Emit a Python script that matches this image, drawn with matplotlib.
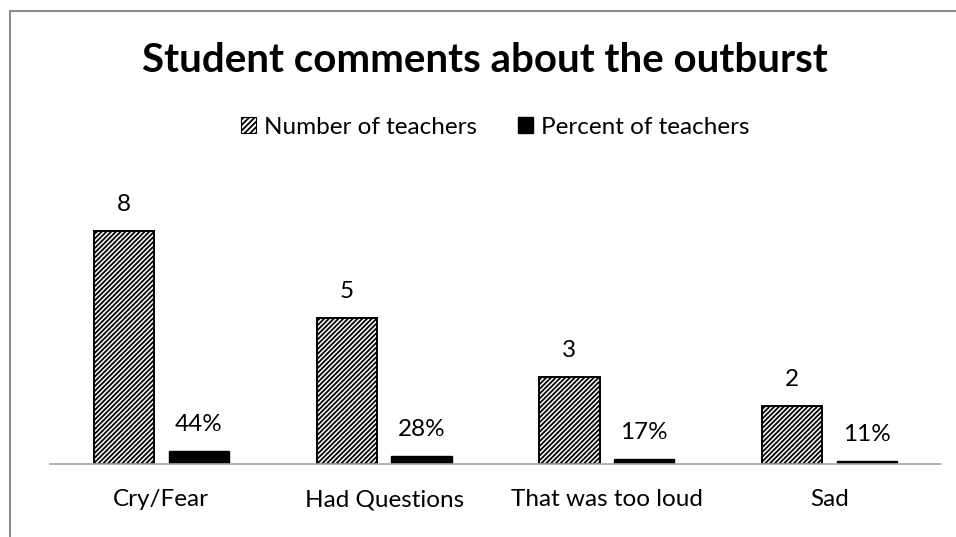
import matplotlib
matplotlib.use("Agg")
import matplotlib.pyplot as plt
from matplotlib.patches import Patch
from matplotlib.lines import Line2D
import numpy as np

plt.rcParams['font.family'] = ['Lato', 'DejaVu Sans']
plt.rcParams['hatch.linewidth'] = 1.3

categories = ["Cry/Fear", "Had Questions", "That was too loud", "Sad"]
number_of_teachers = [8, 5, 3, 2]
percent_of_teachers = [0.44, 0.28, 0.17, 0.11]
number_labels = ["8", "5", "3", "2"]
percent_labels = ["44%", "28%", "17%", "11%"]

W, H = 956, 537
fig = plt.figure(figsize=(W / 100, H / 100), dpi=100)

# plot area in pixels: x 50..941, baseline at y=464, ~29.15 px per unit
ymax = 9
ax_h = 29.15 * ymax
ax = fig.add_axes([50 / W, (H - 464) / H, 891 / W, ax_h / H])

x = np.arange(len(categories))
bw = 0.27
off = 0.168

b1 = ax.bar(x - off, number_of_teachers, bw, color="white", edgecolor="black",
            linewidth=1.4, hatch="///////")
b2 = ax.bar(x + off, percent_of_teachers, bw, color="black", edgecolor="black",
            linewidth=1.0)

for rect, lab in zip(b1, number_labels):
    ax.annotate(lab, (rect.get_x() + rect.get_width() / 2, rect.get_height()),
                xytext=(0, 19), textcoords="offset points", ha="center", va="center",
                fontsize=17.5, annotation_clip=False)
for rect, lab in zip(b2, percent_labels):
    ax.annotate(lab, (rect.get_x() + rect.get_width() / 2, rect.get_height()),
                xytext=(0, 19), textcoords="offset points", ha="center", va="center",
                fontsize=17.5, annotation_clip=False)

ax.set_xlim(-0.5, len(categories) - 0.5)
ax.set_ylim(0, ymax)
ax.set_xticks(x)
ax.set_xticklabels(categories, fontsize=17.5)
ax.tick_params(axis="x", length=0, pad=18)
ax.set_yticks([])
for s in ["left", "right", "top"]:
    ax.spines[s].set_visible(False)
ax.spines["bottom"].set_color("#a6a6a6")
ax.spines["bottom"].set_linewidth(1.2)

fig.text(485 / W, 1 - 61 / H, "Student comments about the outburst",
         ha="center", va="center", fontsize=29, fontweight="bold")

handles = [Patch(facecolor="white", edgecolor="black", hatch="//////", linewidth=0.8),
           Patch(facecolor="black", edgecolor="black")]
fig.legend(handles, ["Number of teachers", "Percent of teachers"], loc="center",
           bbox_to_anchor=(495 / W, 1 - 127 / H), ncol=2, frameon=False,
           fontsize=17.5, handlelength=0.62, handleheight=0.62, handletextpad=0.33,
           columnspacing=1.7, borderpad=0)

# outer chart border (left and top edges visible)
fig.add_artist(Line2D([10 / W, 10 / W, 1], [0, 1 - 10.5 / H, 1 - 10.5 / H],
                      color="#8c8c8c", linewidth=1.5))

fig.savefig("out.png", dpi=100)
